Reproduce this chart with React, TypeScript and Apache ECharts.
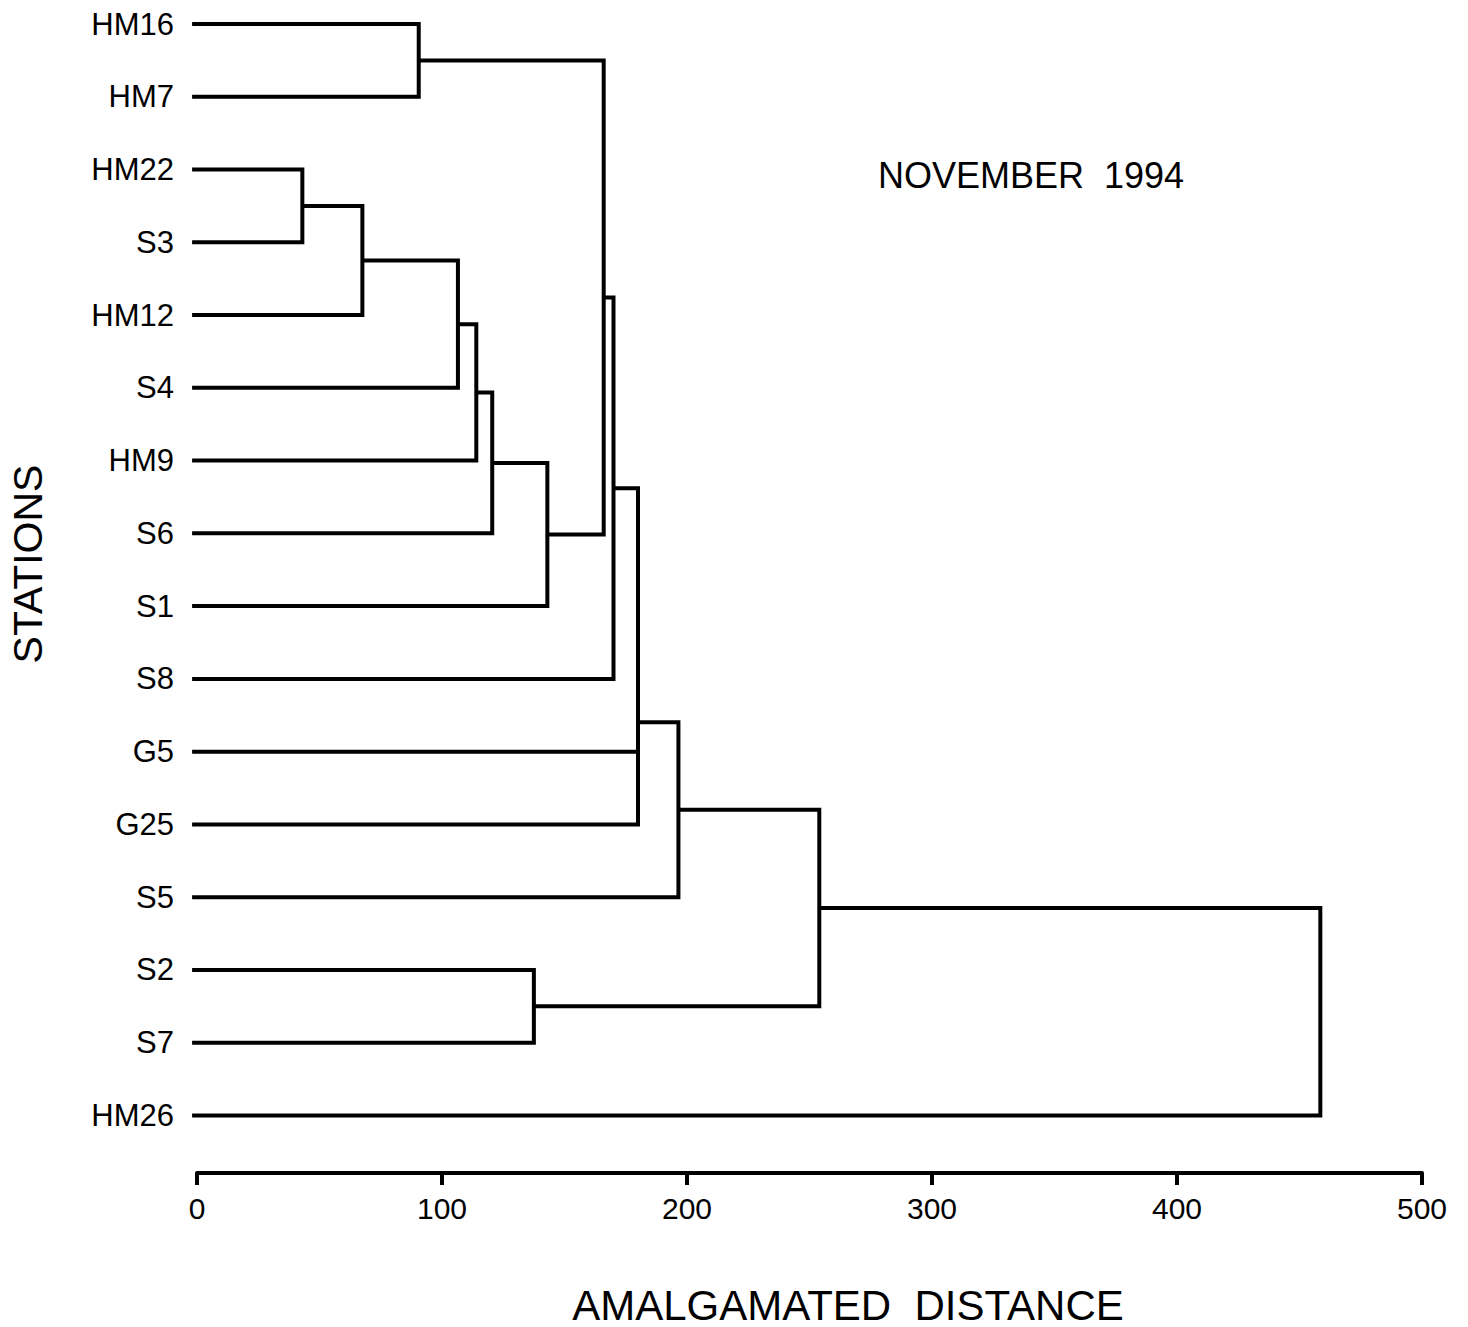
import React, { useEffect, useRef } from "react";
import * as echarts from "echarts";

// Leaves in display order (top to bottom)
const leaves = [
  "HM16", "HM7", "HM22", "S3", "HM12", "S4", "HM9", "S6",
  "S1", "S8", "G5", "G25", "S5", "S2", "S7", "HM26",
];

// Merge steps: [left child, right child, amalgamated distance]
// children are leaf names or "#k" for merge k
const merges: [string, string, number][] = [
  ["HM16", "HM7", 90.5],
  ["HM22", "S3", 43],
  ["#1", "HM12", 67.5],
  ["#2", "S4", 106.5],
  ["#3", "HM9", 114],
  ["#4", "S6", 120.5],
  ["#5", "S1", 143],
  ["#0", "#6", 166],
  ["#7", "S8", 170],
  ["#8", "G5", 180],
  ["#9", "G25", 180],
  ["#10", "S5", 196.5],
  ["S2", "S7", 137.5],
  ["#11", "#12", 254],
  ["#13", "HM26", 458.5],
];

const xTicks = [0, 100, 200, 300, 400, 500];
const chartTitle = "NOVEMBER  1994";
const xTitle = "AMALGAMATED  DISTANCE";
const yTitle = "STATIONS";

const FONT = '"Liberation Sans", Arial, Helvetica, sans-serif';

export default function App() {
  const ref = useRef<HTMLDivElement>(null);

  useEffect(() => {
    if (!ref.current) return;
    const chart = echarts.init(ref.current, null, { renderer: "svg" });

    const leafStart = -2;
    const nodeY: number[] = [];
    const nodeX: number[] = [];
    const resolve = (c: string): [number, number] => {
      if (c.startsWith("#")) {
        const k = parseInt(c.slice(1), 10);
        return [nodeX[k], nodeY[k]];
      }
      return [leafStart, leaves.indexOf(c)];
    };
    const linkData: number[][] = merges.map(([a, b, h], k) => {
      const [xa, ya] = resolve(a);
      const [xb, yb] = resolve(b);
      nodeX[k] = h;
      nodeY[k] = (ya + yb) / 2;
      return [h, ya, yb, xa, xb];
    });

    const leafIdx = leaves.map((_, i) => i);

    chart.setOption({
      animation: false,
      backgroundColor: "#ffffff",
      grid: { left: 197, right: 46, top: 2, bottom: 154, containLabel: false },
      xAxis: {
        type: "value",
        min: 0,
        max: 500,
        interval: 100,
        axisLine: { show: true, onZero: false, lineStyle: { color: "#000", width: 4 } },
        axisTick: { show: true, inside: false, length: 12, lineStyle: { color: "#000", width: 4 } },
        axisLabel: {
          show: true,
          margin: 20,
          color: "#000",
          fontSize: 30,
          fontFamily: FONT,
          customValues: xTicks,
        },
        splitLine: { show: false },
      },
      yAxis: {
        type: "value",
        inverse: true,
        min: -0.304,
        max: 15.792,
        axisLine: { show: false },
        axisTick: { show: false },
        splitLine: { show: false },
        axisLabel: {
          show: true,
          customValues: leafIdx,
          formatter: (v: number) => leaves[Math.round(v)] ?? "",
          margin: 23,
          color: "#000",
          fontSize: 31,
          fontFamily: FONT,
        },
      },
      graphic: [
        {
          type: "text",
          x: 1031,
          y: 175,
          style: {
            text: chartTitle,
            fill: "#000",
            font: `36px ${FONT}`,
            align: "center",
            verticalAlign: "middle",
            textAlign: "center",
            textVerticalAlign: "middle",
          },
        },
        {
          type: "text",
          x: 848,
          y: 1305,
          style: {
            text: xTitle,
            fill: "#000",
            font: `42px ${FONT}`,
            align: "center",
            verticalAlign: "middle",
            textAlign: "center",
            textVerticalAlign: "middle",
          },
        },
        {
          type: "text",
          x: 28,
          y: 564,
          rotation: Math.PI / 2,
          style: {
            text: yTitle,
            fill: "#000",
            font: `41px ${FONT}`,
            align: "center",
            verticalAlign: "middle",
            textAlign: "center",
            textVerticalAlign: "middle",
          },
        },
      ],
      series: [
        {
          type: "custom",
          clip: false,
          data: linkData,
          encode: { x: [0, 3, 4], y: [1, 2] },
          renderItem: (_params: any, api: any) => {
            const h = api.value(0);
            const ya = api.value(1);
            const yb = api.value(2);
            const xa = api.value(3);
            const xb = api.value(4);
            const pts = [
              api.coord([xa, ya]),
              api.coord([h, ya]),
              api.coord([h, yb]),
              api.coord([xb, yb]),
            ];
            return {
              type: "polyline",
              shape: { points: pts },
              style: { stroke: "#000", lineWidth: 4, fill: null, lineJoin: "miter" },
            };
          },
        },
      ],
    });

    return () => chart.dispose();
  }, []);

  return (
    <div
      ref={ref}
      style={{ position: "fixed", left: 0, top: 0, width: 1468, height: 1327, background: "#fff" }}
    />
  );
}
